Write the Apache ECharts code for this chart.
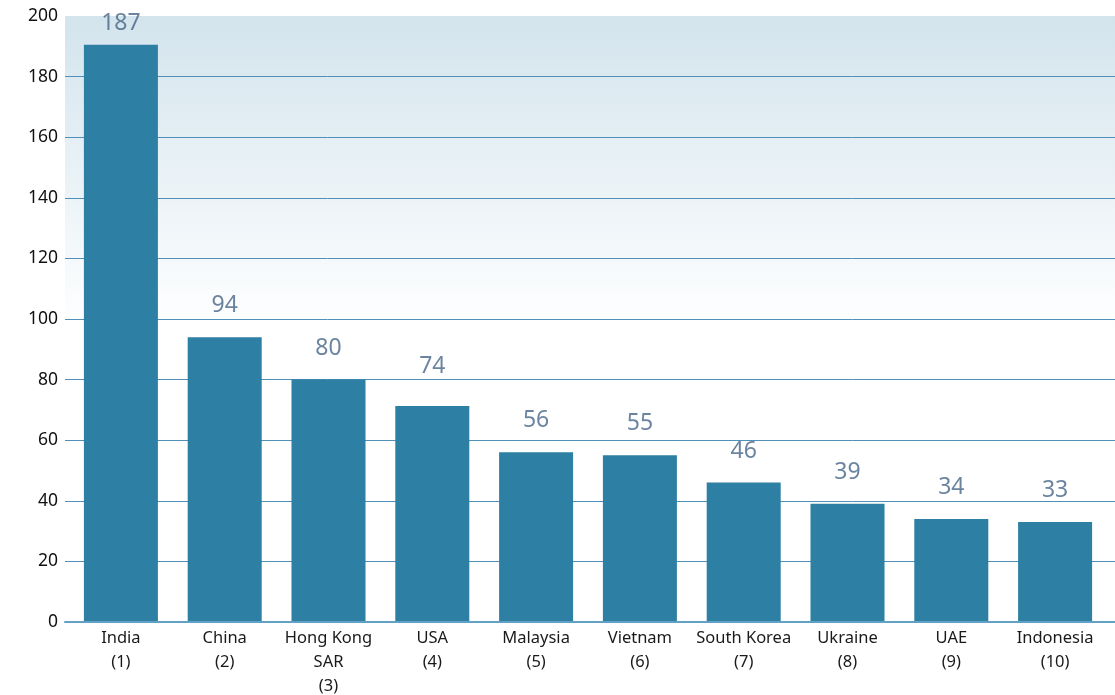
<!DOCTYPE html>
<html>
<head>
<meta charset="utf-8">
<script src="https://cdn.jsdelivr.net/npm/echarts@6/dist/echarts.min.js"></script>
<style>
  html, body { margin: 0; padding: 0; background: #fff; }
  #chart { width: 1115px; height: 695px; }
</style>
</head>
<body>
<div id="chart"></div>
<script>
const categories = ['India\n(1)', 'China\n(2)', 'Hong Kong\nSAR\n(3)', 'USA\n(4)', 'Malaysia\n(5)',
  'Vietnam\n(6)', 'South Korea\n(7)', 'Ukraine\n(8)', 'UAE\n(9)', 'Indonesia\n(10)'];
// bar heights as drawn in the picture
const barValues = [190.5, 94, 80, 71.3, 56, 55, 46, 39, 34, 33];
// numbers printed above the bars
const labelValues = [187, 94, 80, 74, 56, 55, 46, 39, 34, 33];
const yTicks = [0, 20, 40, 60, 80, 100, 120, 140, 160, 180, 200];

const chart = echarts.init(document.getElementById('chart'));
const yMin = yTicks[0];
const yMax = yTicks[yTicks.length - 1];

const option = {
  animation: false,
  textStyle: { fontFamily: 'Noto Sans' },
  grid: [
    {
      // background + gridlines
      left: 65, right: 0, top: 16, bottom: 73,
      outerBoundsMode: 'none',
      show: true,
      borderWidth: 0,
      backgroundColor: {
        type: 'linear', x: 0, y: 0, x2: 0, y2: 1,
        colorStops: [
          { offset: 0, color: '#d3e4ed' },
          { offset: 0.52, color: '#ffffff' },
          { offset: 1, color: '#ffffff' }
        ]
      }
    },
    {
      // bars
      left: 69, right: 8, top: 16, bottom: 73,
      outerBoundsMode: 'none'
    }
  ],
  xAxis: [
    {
      type: 'category',
      gridIndex: 0,
      data: categories,
      axisTick: { show: false },
      axisLabel: { show: false },
      axisLine: { lineStyle: { color: '#62a0c4', width: 2 } },
      z: 5
    },
    {
      type: 'category',
      gridIndex: 1,
      data: categories,
      axisTick: { show: false },
      axisLine: { show: false },
      axisLabel: { color: '#1a1a1a', fontSize: 16.5, lineHeight: 24, margin: 4, interval: 0 }
    }
  ],
  yAxis: [
    {
      type: 'value',
      gridIndex: 0,
      min: yMin,
      max: yMax,
      interval: 20,
      axisLine: { show: false },
      axisTick: { show: false },
      axisLabel: { color: '#111', fontSize: 17.5, margin: 7 },
      splitLine: { showMaxLine: false, lineStyle: { color: '#4f8fb8', width: 1 } }
    },
    {
      type: 'value',
      gridIndex: 1,
      min: yMin,
      max: yMax,
      interval: 20,
      show: false,
      splitLine: { show: false }
    }
  ],
  series: [
    {
      type: 'bar',
      xAxisIndex: 1,
      yAxisIndex: 1,
      data: barValues,
      barCategoryGap: '28.7%',
      itemStyle: { color: '#2e7fa4' }
    },
    {
      type: 'scatter',
      xAxisIndex: 1,
      yAxisIndex: 1,
      data: labelValues,
      symbolSize: 0,
      silent: true,
      label: {
        show: true,
        position: 'top',
        distance: 20,
        color: '#466587',
        fontSize: 23
      }
    }
  ]
};
chart.setOption(option);
</script>
</body>
</html>
